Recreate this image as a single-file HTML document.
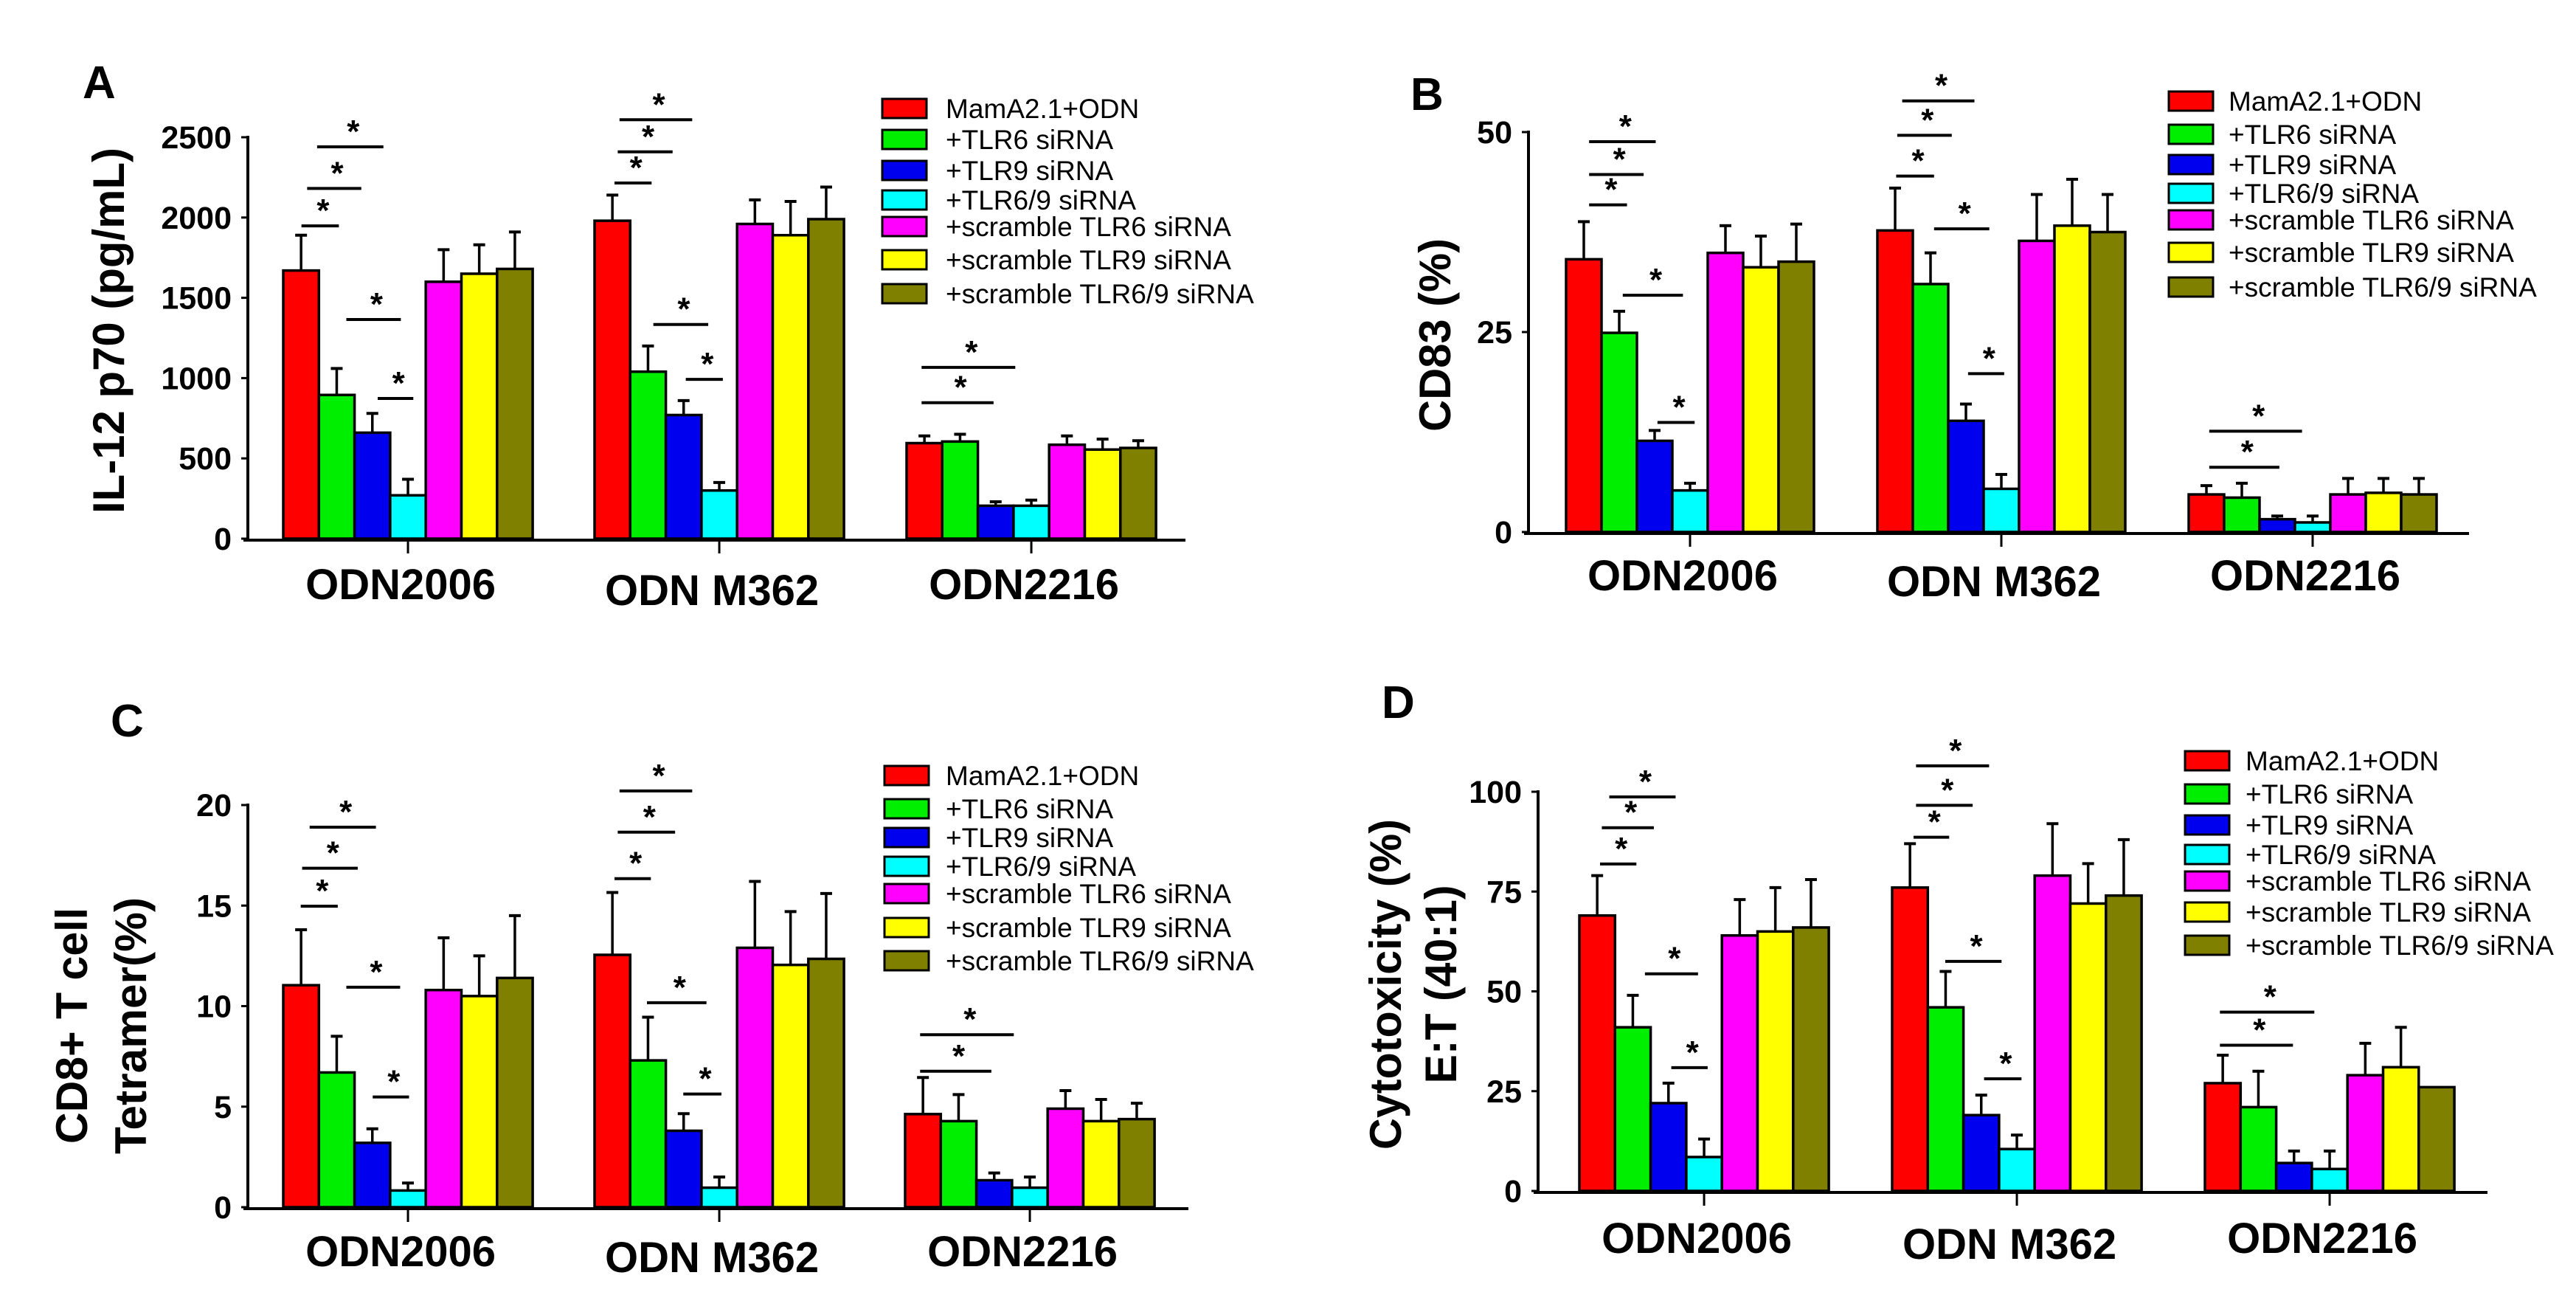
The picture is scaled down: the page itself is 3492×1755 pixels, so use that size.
<!DOCTYPE html>
<html><head><meta charset="utf-8">
<style>
html,body{margin:0;padding:0;background:#fff;}
svg{display:block;}
text{font-family:"Liberation Sans",Arial,sans-serif;fill:#000;}
</style></head>
<body>
<svg id="fig" width="3492" height="1755" viewBox="0 0 3492 1755" xmlns="http://www.w3.org/2000/svg"></svg>
<script>
// ---- shared data ----
const categories = ["ODN2006", "ODN M362", "ODN2216"];
const seriesNames = ["MamA2.1+ODN", "+TLR6 siRNA", "+TLR9 siRNA", "+TLR6/9 siRNA", "+scramble TLR6 siRNA", "+scramble TLR9 siRNA", "+scramble TLR6/9 siRNA"];
const seriesColors = ["#ff0000", "#00ee00", "#0000ee", "#00ffff", "#ff00ff", "#ffff00", "#808000"];

// ---- Panel A: IL-12 p70 ----
const aTicks = [0, 500, 1000, 1500, 2000, 2500];
const aMeans = [[1670, 895, 660, 270, 1600, 1650, 1680], [1980, 1040, 770, 300, 1960, 1890, 1990], [595, 605, 205, 205, 585, 555, 565]];
const aErrs = [[1890, 1060, 780, 370, 1800, 1830, 1910], [2140, 1200, 860, 350, 2110, 2100, 2190], [640, 650, 230, 240, 640, 620, 610]];
const aSig = [[0, 0.51, 1.56, 1948], [0, 0.67, 2.19, 2181], [0, 0.95, 2.81, 2440], [0, 1.77, 3.30, 1365], [0, 2.65, 3.65, 873],
  [1, 0.56, 1.6, 2215], [1, 0.65, 2.19, 2409], [1, 0.7, 2.74, 2609], [1, 1.65, 3.19, 1334], [1, 2.56, 3.6, 992],
  [2, 0.42, 2.44, 847], [2, 0.42, 3.05, 1067]];

// ---- Panel B: CD83 ----
const bTicks = [0, 25, 50];
const bMeans = [[34.1, 24.9, 11.4, 5.2, 34.9, 33.1, 33.8], [37.7, 31, 13.9, 5.4, 36.4, 38.3, 37.5], [4.7, 4.3, 1.6, 1.2, 4.7, 4.9, 4.7]];
const bErrs = [[38.8, 27.6, 12.7, 6.1, 38.3, 37, 38.5], [43, 34.9, 16, 7.2, 42.2, 44.1, 42.2], [5.8, 6.1, 2, 2, 6.7, 6.7, 6.7]];
const bSig = [[0, 0.65, 1.72, 40.9], [0, 0.65, 2.19, 44.7], [0, 0.65, 2.53, 48.8], [0, 1.6, 3.3, 29.6], [0, 2.58, 3.63, 13.7],
  [1, 0.53, 1.6, 44.5], [1, 0.56, 2.1, 49.6], [1, 0.7, 2.74, 53.9], [1, 1.6, 3.16, 37.9], [1, 2.56, 3.58, 19.8],
  [2, 0.58, 2.56, 8.1], [2, 0.58, 3.2, 12.6]];

// ---- Panel C: CD8+ T cell tetramer ----
const cTicks = [0, 5, 10, 15, 20];
const cMeans = [[11.04, 6.7, 3.2, 0.83, 10.8, 10.5, 11.4], [12.55, 7.3, 3.8, 0.97, 12.9, 12.05, 12.35], [4.63, 4.28, 1.34, 0.97, 4.9, 4.28, 4.38]];
const cErrs = [[13.8, 8.5, 3.9, 1.2, 13.4, 12.5, 14.5], [15.65, 9.45, 4.65, 1.5, 16.2, 14.7, 15.6], [6.45, 5.6, 1.7, 1.5, 5.8, 5.36, 5.17]];
const cSig = [[0, 0.49, 1.53, 14.97], [0, 0.53, 2.09, 16.86], [0, 0.74, 2.6, 18.9], [0, 1.77, 3.28, 10.94], [0, 2.51, 3.53, 5.48],
  [1, 0.56, 1.58, 16.34], [1, 0.65, 2.26, 18.65], [1, 0.7, 2.74, 20.7], [1, 1.47, 3.14, 10.17], [1, 2.49, 3.56, 5.63],
  [2, 0.42, 2.42, 6.76], [2, 0.42, 3.05, 8.58]];

// ---- Panel D: Cytotoxicity ----
const dTicks = [0, 25, 50, 75, 100];
const dMeans = [[69, 41, 22, 8.5, 64, 65, 66], [76, 46, 19, 10.5, 79, 72, 74], [27, 21, 7, 5.5, 29, 31, 26]];
const dErrs = [[79, 49, 27, 13, 73, 76, 78], [87, 55, 24, 14, 92, 82, 88], [34, 30, 10, 10, 37, 41, 26]];
const dSig = [[0, 0.58, 1.6, 81.9], [0, 0.63, 2.09, 91], [0, 0.84, 2.7, 98.7], [0, 1.84, 3.33, 54.4], [0, 2.58, 3.6, 30.9],
  [1, 0.6, 1.6, 88.6], [1, 0.67, 2.26, 96.6], [1, 0.67, 2.72, 106.5], [1, 1.49, 3.07, 57.5], [1, 2.58, 3.63, 28.1],
  [2, 0.42, 2.47, 36.5], [2, 0.42, 3.07, 44.8]];

const NS = "http://www.w3.org/2000/svg";
const svg = document.getElementById("fig");
function mk(tag, attrs, parent) {
  const e = document.createElementNS(NS, tag);
  for (const k in attrs) e.setAttribute(k, attrs[k]);
  (parent || svg).appendChild(e);
  return e;
}

const panels = [
  {id: "a", letter: "A", lx: 112, ly: 133, ax: 336, x1: 1607, y0: 730, yTop: 186, vmax: 2500, gs: [384, 806, 1229], bw: 48.3,
   ticks: aTicks, means: aMeans, errs: aErrs, sig: aSig, labY: 812,
   title: ["IL-12 p70 (pg/mL)"], tx: [147], tcy: 448, tlen: [496],
   legX: 1196, legTextX: 1282, legY: [147, 189, 231, 271, 307, 352, 398]},
  {id: "b", letter: "B", lx: 1912, ly: 149, ax: 2072, x1: 3347, y0: 721, yTop: 179, vmax: 50, gs: [2123, 2545, 2967], bw: 48,
   ticks: bTicks, means: bMeans, errs: bErrs, sig: bSig, labY: 800,
   title: ["CD83 (%)"], tx: [1945], tcy: 454, tlen: [262],
   legX: 2940, legTextX: 3021, legY: [137, 182, 223, 262, 298, 342, 389]},
  {id: "c", letter: "C", lx: 150, ly: 998, ax: 336, x1: 1611, y0: 1636, yTop: 1091, vmax: 20, gs: [384, 806, 1227], bw: 48.3,
   ticks: cTicks, means: cMeans, errs: cErrs, sig: cSig, labY: 1716,
   title: ["CD8+ T cell", "Tetramer(%)"], tx: [97, 177], tcy: 1390, tlen: [320, 348],
   legX: 1199, legTextX: 1282, legY: [1051, 1096, 1135, 1174, 1211, 1257, 1302]},
  {id: "d", letter: "D", lx: 1873, ly: 973, ax: 2085, x1: 3372, y0: 1614, yTop: 1073, vmax: 100, gs: [2141, 2565, 2989], bw: 48.3,
   ticks: dTicks, means: dMeans, errs: dErrs, sig: dSig, labY: 1698,
   title: ["Cytotoxicity (%)", "E:T (40:1)"], tx: [1878, 1953], tcy: 1334, tlen: [448, 269],
   legX: 2962, legTextX: 3044, legY: [1031, 1076, 1118, 1158, 1194, 1236, 1281]}
];

panels.forEach(p => {
  const g = mk("g", {});
  
  
  const yS = v => p.y0 - (v / p.vmax) * (p.y0 - p.yTop);
  const xBar = (gi, bi) => p.gs[gi] + bi * p.bw;

  const L = mk("text", {x: p.lx, y: p.ly, "font-size": 62, "font-weight": "bold"}, g);
  L.textContent = p.letter;
  
  

  // bars
  p.means.forEach((row, gi) => {
    row.forEach((v, bi) => {
      const x = xBar(gi, bi), cx = x + p.bw / 2;
      const ey = yS(p.errs[gi][bi]);
      if (p.errs[gi][bi] > v) {
        const el = mk("line", {x1: cx, x2: cx, y1: yS(v), y2: ey, stroke: "#000", "stroke-width": 3.5}, g);
        
        
        const cap = mk("line", {x1: cx - 8, x2: cx + 8, y1: ey, y2: ey, stroke: "#000", "stroke-width": 4}, g);
        
        
      }
      const r = mk("rect", {x: x, y: yS(v), width: p.bw, height: p.y0 - yS(v), fill: seriesColors[bi], stroke: "#000", "stroke-width": 3.5}, g);
      
      
    });
  });

  // axes
  const yAx = mk("line", {x1: p.ax, x2: p.ax, y1: yS(p.vmax) - 2, y2: p.y0, stroke: "#000", "stroke-width": 4}, g);
  
  
  const xAx = mk("line", {x1: p.ax - 6, x2: p.x1, y1: p.y0 + 2, y2: p.y0 + 2, stroke: "#000", "stroke-width": 4}, g);
  
  

  p.ticks.forEach(t => {
    const tk = mk("line", {x1: p.ax - 9, x2: p.ax, y1: yS(t), y2: yS(t), stroke: "#000", "stroke-width": 3}, g);
    
    
    const tl = mk("text", {x: p.ax - 22, y: yS(t) + 15, "font-size": 43, "font-weight": "bold", "text-anchor": "end"}, g);
    tl.textContent = t;
    
    
  });

  categories.forEach((c, gi) => {
    const cx = p.gs[gi] + 3.5 * p.bw;
    const tk = mk("line", {x1: cx, x2: cx, y1: p.y0, y2: p.y0 + 20, stroke: "#000", "stroke-width": 3}, g);
    
    
    const tl = mk("text", {x: cx - 10, y: p.labY + (gi === 1 ? 8 : 0), "font-size": 58, "font-weight": "bold", "text-anchor": "middle"}, g);
    tl.textContent = c;
    
    
  });

  // y title
  p.title.forEach((t, i) => {
    const tt = mk("text", {x: 0, y: 0, "font-size": 60, "font-weight": "bold", "text-anchor": "middle",
      textLength: p.tlen[i], lengthAdjust: "spacingAndGlyphs",
      transform: "translate(" + (p.tx[i] + 21) + "," + p.tcy + ") rotate(-90)"}, g);
    tt.textContent = t;
    
    
  });

  // significance lines
  p.sig.forEach(s => {
    const xa = p.gs[s[0]] + s[1] * p.bw, xb = p.gs[s[0]] + s[2] * p.bw, y = yS(s[3]);
    const ln = mk("line", {x1: xa, x2: xb, y1: y, y2: y, stroke: "#000", "stroke-width": 4}, g);
    
    
    const st = mk("text", {x: (xa + xb) / 2 + 4, y: y - 6, "font-size": 44, "font-weight": "bold", "text-anchor": "middle"}, g);
    st.textContent = "*";
    
    
  });

  // legend
  seriesNames.forEach((n, i) => {
    const cy = p.legY[i];
    const sw = mk("rect", {x: p.legX, y: cy - 13, width: 60, height: 26, fill: seriesColors[i], stroke: "#000", "stroke-width": 3}, g);
    
    
    const lt = mk("text", {x: p.legTextX, y: cy + 13, "font-size": 37}, g);
    lt.textContent = n;
    
    
  });
});
</script>
</body></html>
